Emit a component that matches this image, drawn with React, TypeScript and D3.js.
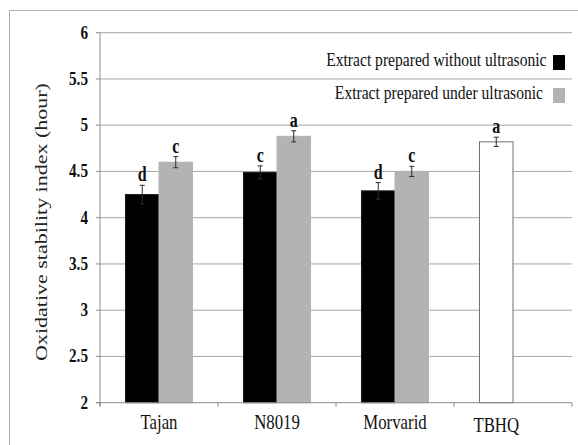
import * as d3 from 'd3';
import * as React from 'react';

const width = 578;
const height = 445;
const margin = { top: 32.7, right: 6, bottom: 42.3, left: 100 };

const categories = ['Tajan', 'N8019', 'Morvarid', 'TBHQ'];
const seriesNames = ['Extract prepared without ultrasonic', 'Extract prepared under ultrasonic'];

// cultivars measured both ways
const withoutValues = [4.25, 4.49, 4.29];
const withoutErrors = [0.1, 0.07, 0.09];
const withoutLetters = ['d', 'c', 'd'];

const underValues = [4.6, 4.88, 4.5];
const underErrors = [0.06, 0.06, 0.055];
const underLetters = ['c', 'a', 'c'];

// synthetic antioxidant control
const controlValue = 4.82;
const controlError = 0.05;
const controlLetter = 'a';

const yTicks = [2, 2.5, 3, 3.5, 4, 4.5, 5, 5.5, 6];

const SX = 0.8; // the figure is squeezed horizontally
const serif = { fontFamily: "'Liberation Serif', 'DejaVu Serif', serif" };

type Bar = {
  cat: string;
  key: string;
  value: number;
  err: number;
  letter: string;
  fill: string;
  stroke: string;
};

const colors: Record<string, string> = { without: '#000000', under: '#b3b3b3' };

export default function App() {
  const x0 = d3
    .scaleBand()
    .domain(categories)
    .range([margin.left, width - margin.right])
    .paddingInner(0)
    .paddingOuter(0);

  const x1 = d3
    .scaleBand()
    .domain(['without', 'under'])
    .range([0, x0.bandwidth()])
    .paddingInner(0)
    .paddingOuter(0.76);

  const y = d3
    .scaleLinear()
    .domain([2, 6])
    .range([height - margin.bottom, margin.top]);

  const bars: Bar[] = [];
  withoutValues.forEach((v, i) =>
    bars.push({ cat: categories[i], key: 'without', value: v, err: withoutErrors[i], letter: withoutLetters[i], fill: colors.without, stroke: '#1a1a1a' }),
  );
  underValues.forEach((v, i) =>
    bars.push({ cat: categories[i], key: 'under', value: v, err: underErrors[i], letter: underLetters[i], fill: colors.under, stroke: '#b3b3b3' }),
  );
  bars.push({ cat: 'TBHQ', key: 'without', value: controlValue, err: controlError, letter: controlLetter, fill: '#ffffff', stroke: '#6e6e6e' });

  const barX = (b: Bar) => (x0(b.cat) || 0) + (x1(b.key) || 0);
  const bw = x1.bandwidth();
  const y0 = y(2);
  const xLeft = margin.left;
  const xRight = width - margin.right;

  const labelX = (c: string) => {
    const own = bars.filter(b => b.cat === c);
    if (own.length === 1) return barX(own[0]) + bw / 2;
    return (x0(c) || 0) + x0.bandwidth() / 2;
  };

  const txt = (x: number, yy: number) => `translate(${x},${yy}) scale(${SX},1)`;

  return (
    <svg
      width={width}
      height={height}
      style={{ position: 'absolute', left: 0, top: 0, background: '#fff' }}
    >
      <rect x={9.5} y={10.5} width={width + 10} height={height + 10} fill="#fff" stroke="#b0b0b0" />

      {/* gridlines */}
      {yTicks.slice(1).map(t => (
        <line key={t} x1={xLeft} x2={xRight} y1={y(t)} y2={y(t)} stroke="#a6a6a6" strokeWidth={1} />
      ))}

      {/* bars */}
      {bars.map((b, i) => (
        <rect
          key={i}
          x={barX(b)}
          y={y(b.value)}
          width={bw}
          height={y0 - y(b.value)}
          fill={b.fill}
          stroke={b.stroke}
          strokeWidth={1}
        />
      ))}

      {/* error bars */}
      {bars.map((b, i) => {
        const cx = barX(b) + bw / 2;
        const top = y(b.value + b.err);
        const bot = y(b.value - b.err);
        return (
          <g key={i} stroke="#2b2b2b" strokeWidth={1}>
            <line x1={cx} x2={cx} y1={top} y2={bot} />
            <line x1={cx - 2.5} x2={cx + 2.5} y1={top} y2={top} />
            <line x1={cx - 2.5} x2={cx + 2.5} y1={bot} y2={bot} />
          </g>
        );
      })}

      {/* significance letters */}
      {bars.map((b, i) => (
        <text
          key={i}
          transform={txt(barX(b) + bw / 2, y(b.value + b.err) - 4)}
          textAnchor="middle"
          fontWeight="bold"
          fontSize={20}
          fill="#111"
          style={serif}
        >
          {b.letter}
        </text>
      ))}

      {/* y axis */}
      <line x1={xLeft} x2={xLeft} y1={y(6)} y2={y0 + 4} stroke="#8c8c8c" />
      {yTicks.map(t => (
        <g key={t}>
          <line x1={xLeft - 4} x2={xLeft} y1={y(t)} y2={y(t)} stroke="#8c8c8c" />
          <text transform={txt(xLeft - 12, y(t) + 6)} textAnchor="end" fontWeight="bold" fontSize={19} fill="#111" style={serif}>
            {d3.format('')(t)}
          </text>
        </g>
      ))}

      {/* x axis */}
      <line x1={xLeft - 4} x2={xRight} y1={y0} y2={y0} stroke="#8c8c8c" />
      {[...categories.map(c => x0(c) || 0), xRight].map((tx, i) => (
        <line key={i} x1={tx} x2={tx} y1={y0} y2={y0 + 4} stroke="#8c8c8c" />
      ))}
      {categories.map(c => (
        <text key={c} transform={txt(labelX(c), c === 'TBHQ' ? 432 : 429)} textAnchor="middle" fontSize={21} fill="#111" style={serif}>
          {c}
        </text>
      ))}

      {/* y axis title */}
      <text
        transform={`translate(47,222) scale(${SX},1) rotate(-90)`}
        textAnchor="middle"
        fontSize={22}
        fill="#222"
        style={serif}
      >
        Oxidative stability index (hour)
      </text>

      {/* legend */}
      {seriesNames.map((name, i) => (
        <g key={name}>
          <text transform={txt(546.5 - (i === 1 ? 3.5 : 0), 66 + i * 32.5)} textAnchor="end" fontSize={19.5} fill="#111" style={serif}>
            {name}
          </text>
          <rect x={553} y={55 + i * 33} width={12} height={15} fill={i === 0 ? colors.without : colors.under} />
        </g>
      ))}
    </svg>
  );
}
